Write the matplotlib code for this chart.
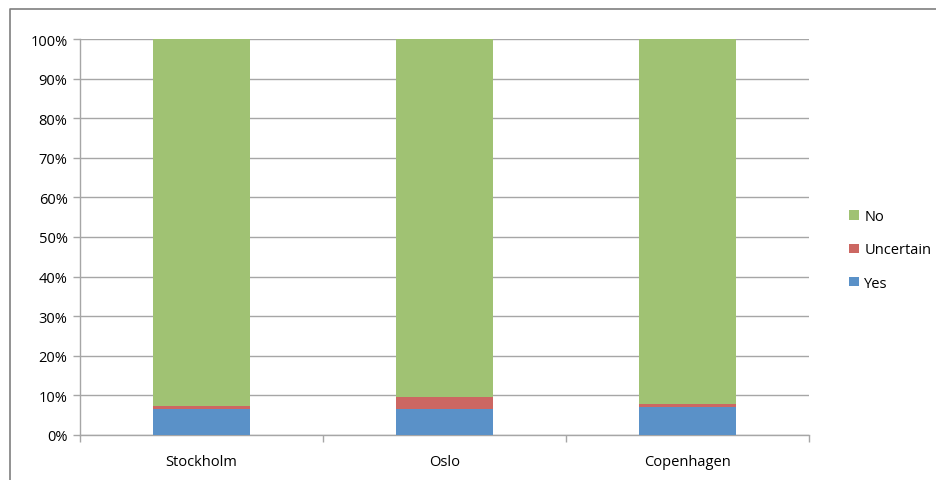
import matplotlib
matplotlib.use("Agg")
import matplotlib.pyplot as plt
from matplotlib.lines import Line2D
from matplotlib.ticker import FuncFormatter, FixedLocator

cities = ["Stockholm", "Oslo", "Copenhagen"]
yes = [6.6, 6.6, 7.0]
uncertain = [0.8, 3.1, 0.9]
no = [92.6, 90.3, 92.1]
yticks = [0, 10, 20, 30, 40, 50, 60, 70, 80, 90, 100]

plt.rcParams['font.family'] = ['Open Sans', 'DejaVu Sans']

W, H = 936, 481
fig = plt.figure(figsize=(W / 100, H / 100), dpi=100)
ax = fig.add_axes([80 / W, (H - 436) / H, 729 / W, 396 / H])

c_yes, c_unc, c_no = "#5A91C8", "#CC6762", "#A0C273"
x = range(len(cities))
ax.bar(x, yes, width=0.4, color=c_yes, label="Yes", zorder=3)
bot = [a for a in yes]
ax.bar(x, uncertain, width=0.4, bottom=bot, color=c_unc, label="Uncertain", zorder=3)
bot2 = [a + b for a, b in zip(yes, uncertain)]
ax.bar(x, no, width=0.4, bottom=bot2, color=c_no, label="No", zorder=3)

ax.set_xlim(-0.5, len(cities) - 0.5)
ax.set_ylim(0, 100)
ax.set_yticks(yticks)
ax.yaxis.set_major_formatter(FuncFormatter(lambda v, p: f"{int(v)}%"))
ax.grid(axis="y", color="#A6A6A6", linewidth=1.0, zorder=0)

ax.set_xticks(list(x))
ax.set_xticklabels(cities, fontsize=10.5)
ax.tick_params(axis="x", which="major", length=0, pad=14)
ax.xaxis.set_minor_locator(FixedLocator([-0.5, 0.5, 1.5, 2.5]))
ax.tick_params(axis="x", which="minor", length=5, color="#A6A6A6", width=1)
ax.tick_params(axis="y", length=5, color="#A6A6A6", width=1, labelsize=10.5, pad=4)

for s in ["top", "right"]:
    ax.spines[s].set_visible(False)
for s in ["left", "bottom"]:
    ax.spines[s].set_color("#A6A6A6")
    ax.spines[s].set_linewidth(1.0)

handles, labels = ax.get_legend_handles_labels()
leg = fig.legend(handles[::-1], labels[::-1], loc="center left",
                 bbox_to_anchor=(836 / W, (H - 251) / H), frameon=False,
                 fontsize=10.5, handlelength=0.65, handleheight=0.65,
                 handletextpad=0.4, labelspacing=1.25)

# chart border (partially visible)
fig.add_artist(Line2D([10 / W, 10 / W, 1.0], [0.0, 1 - 10 / H, 1 - 10 / H],
                      transform=fig.transFigure, color="#7F7F7F", linewidth=1.2))

fig.savefig("out.png", dpi=100)
